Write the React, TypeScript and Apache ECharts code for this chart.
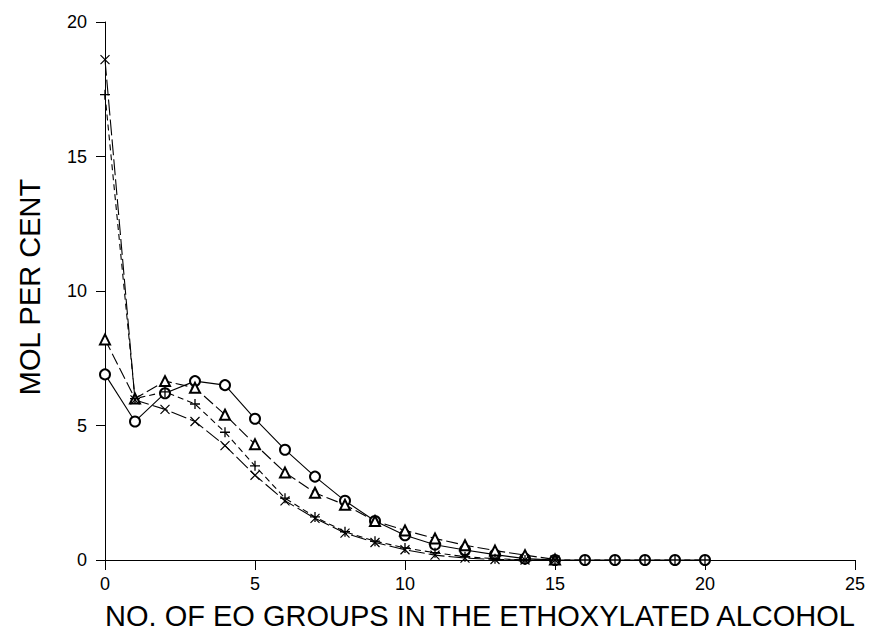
import React, { useEffect, useRef } from "react";
import * as echarts from "echarts";

// Number of EO groups (x) for each measured point
const eoGroups = [0, 1, 2, 3, 4, 5, 6, 7, 8, 9, 10, 11, 12, 13, 14, 15, 16, 17, 18, 19, 20];

// Mol per cent of each EO adduct for the four samples
const circleSample = [6.9, 5.15, 6.2, 6.65, 6.5, 5.25, 4.1, 3.1, 2.2, 1.45, 0.92, 0.57, 0.37, 0.2, 0.05, 0, 0, 0, 0, 0, 0];
const triangleSample = [8.2, 6.0, 6.65, 6.4, 5.4, 4.3, 3.25, 2.5, 2.05, 1.45, 1.1, 0.8, 0.55, 0.35, 0.18, 0.02];
const plusSample = [17.3, 6.0, 6.25, 5.8, 4.75, 3.5, 2.3, 1.6, 1.05, 0.7, 0.45, 0.27, 0.12, 0.05, 0, 0, 0, 0, 0, 0, 0];
const crossSample = [18.6, 5.95, 5.6, 5.15, 4.25, 3.15, 2.2, 1.55, 1.0, 0.65, 0.38, 0.18, 0.07, 0.02, 0, 0];

const xTicks = [0, 5, 10, 15, 20, 25];
const yTicks = [0, 5, 10, 15, 20];

const xTitle = "NO. OF EO GROUPS IN THE ETHOXYLATED ALCOHOL";
const yTitle = "MOL PER CENT";

const FONT = "'Liberation Sans', Arial, Helvetica, sans-serif";

const pairs = (vals: number[]) => vals.map((v, i) => [eoGroups[i], v]);

export default function App() {
  const ref = useRef<HTMLDivElement>(null);

  useEffect(() => {
    if (!ref.current) return;
    const chart = echarts.init(ref.current, undefined, { renderer: "svg" });

    const lineBase = {
      type: "line" as const,
      symbolSize: 10,
      showSymbol: true,
      clip: false,
      z: 3,
    };

    chart.setOption({
      animation: false,
      backgroundColor: "#ffffff",
      grid: { left: 105, right: 15, top: 22, bottom: 80, containLabel: false },
      xAxis: {
        type: "value",
        min: xTicks[0],
        max: xTicks[xTicks.length - 1],
        interval: 5,
        axisLine: { show: true, lineStyle: { color: "#000", width: 1 } },
        axisTick: { show: true, length: 10, lineStyle: { color: "#000", width: 1 } },
        axisLabel: { color: "#000", fontSize: 18, fontFamily: FONT, margin: 15 },
        splitLine: { show: false },
      },
      yAxis: {
        type: "value",
        min: yTicks[0],
        max: yTicks[yTicks.length - 1],
        interval: 5,
        axisLine: { show: true, onZero: false, lineStyle: { color: "#000", width: 1 } },
        axisTick: { show: true, length: 9, lineStyle: { color: "#000", width: 1 } },
        axisLabel: { color: "#000", fontSize: 18, fontFamily: FONT, margin: 18 },
        splitLine: { show: false },
      },
      graphic: [
        {
          type: "text",
          x: 480,
          y: 616,
          style: {
            text: xTitle,
            fontSize: 29,
            fontFamily: FONT,
            fill: "#000",
            textAlign: "center",
            textVerticalAlign: "middle",
          },
        },
        {
          type: "text",
          x: 30,
          y: 287,
          rotation: Math.PI / 2,
          style: {
            text: yTitle,
            fontSize: 29,
            fontFamily: FONT,
            fill: "#000",
            textAlign: "center",
            textVerticalAlign: "middle",
          },
        },
      ],
      series: [
        {
          ...lineBase,
          name: "circle",
          data: pairs(circleSample),
          symbol: "emptyCircle",
          lineStyle: { color: "#000", width: 1.1, type: "solid" },
          itemStyle: { color: "#000", borderColor: "#000", borderWidth: 1.2 },
        },
        {
          ...lineBase,
          name: "triangle",
          data: pairs(triangleSample),
          symbol: "emptyTriangle",
          lineStyle: { color: "#000", width: 1.1, type: [12, 4] },
          itemStyle: { color: "#000", borderColor: "#000", borderWidth: 1.2 },
        },
        {
          ...lineBase,
          name: "plus",
          data: pairs(plusSample),
          symbol: "path://M5,0L5,10M0,5L10,5",
          symbolSize: 10,
          lineStyle: { color: "#000", width: 1.1, type: [6, 4] },
          itemStyle: { color: "none", borderColor: "#000", borderWidth: 1.3 },
        },
        {
          ...lineBase,
          name: "cross",
          data: pairs(crossSample),
          symbol: "path://M0,0L10,10M0,10L10,0",
          symbolSize: 9,
          lineStyle: { color: "#000", width: 1.1, type: [16, 4] },
          itemStyle: { color: "none", borderColor: "#000", borderWidth: 1.2 },
        },
      ],
    });

    return () => chart.dispose();
  }, []);

  return (
    <div
      ref={ref}
      style={{ position: "fixed", left: 0, top: 0, width: 870, height: 640, background: "#fff" }}
    />
  );
}
